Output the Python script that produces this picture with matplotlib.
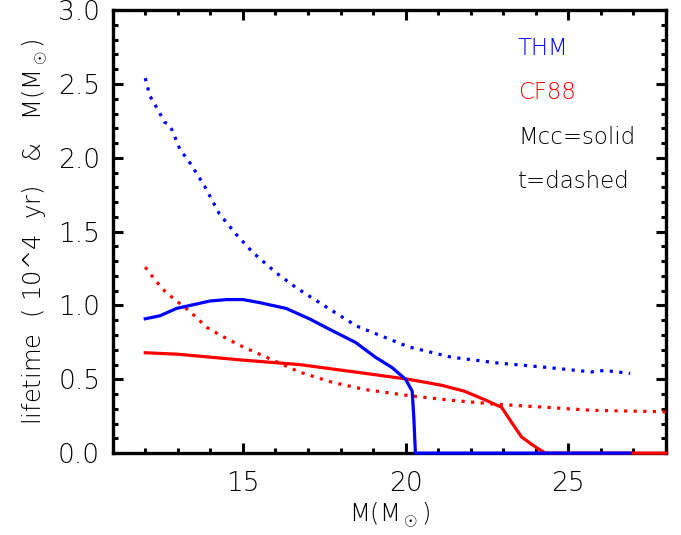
import numpy as np
import matplotlib
matplotlib.use("Agg")
import matplotlib.pyplot as plt
from matplotlib.ticker import MultipleLocator

plt.rcParams['font.family'] = ['DejaVu Sans']
plt.rcParams['font.weight'] = 'light'
plt.rcParams['axes.labelweight'] = 'light'
plt.rcParams['mathtext.fontset'] = 'custom'
plt.rcParams['mathtext.rm'] = 'DejaVu Sans:light'
plt.rcParams['mathtext.default'] = 'rm'

# THM tracks: core mass (solid) and lifetime (dotted)
thm_m_mcc = [12.0, 12.45, 12.96, 13.37, 13.98, 14.5, 15.0, 15.5, 16.33, 17.04, 17.74,
             18.46, 19.07, 19.58, 20.0, 20.2, 20.25, 20.3, 26.9]
thm_mcc = [0.91, 0.93, 0.98, 1.00, 1.03, 1.04, 1.04, 1.02, 0.98, 0.91, 0.83,
           0.75, 0.65, 0.58, 0.50, 0.42, 0.25, 0.0, 0.0]
thm_m_t = [12.0, 12.14, 12.35, 12.6, 12.7, 12.82, 13.06, 13.36, 13.82, 14.28, 14.8,
           15.3, 16.03, 16.64, 17.56, 18.5, 20.09, 21.4, 22.85, 24.37, 25.7, 26.1, 26.9]
thm_t = [2.54, 2.42, 2.34, 2.24, 2.23, 2.19, 2.06, 1.97, 1.81, 1.62, 1.48,
         1.36, 1.22, 1.12, 0.99, 0.86, 0.72, 0.65, 0.61, 0.58, 0.55, 0.56, 0.54]

# CF88 tracks
cf_m_mcc = [12.0, 12.5, 13.0, 14.0, 15.0, 16.73, 18.77, 20.09, 21.1, 21.8, 22.45,
            22.95, 23.25, 23.56, 23.87, 24.07, 24.3, 28.0]
cf_mcc = [0.68, 0.675, 0.67, 0.65, 0.63, 0.60, 0.54, 0.50, 0.46, 0.42, 0.36,
          0.31, 0.21, 0.11, 0.06, 0.03, 0.0, 0.0]
cf_m_t = [12.0, 12.24, 12.54, 12.85, 13.37, 13.9, 14.38, 15.0, 15.72, 16.73, 17.74,
          18.77, 20.09, 21.3, 22.85, 24.37, 25.7, 26.9, 28.0]
cf_t = [1.26, 1.19, 1.11, 1.05, 0.96, 0.85, 0.79, 0.72, 0.65, 0.55, 0.48,
        0.43, 0.39, 0.36, 0.33, 0.31, 0.29, 0.285, 0.28]

legend_text = ['THM', 'CF88', 'Mcc=solid', 't=dashed']
legend_color = ['blue', 'red', 'black', 'black']

fig = plt.figure(figsize=(6.81, 5.35), dpi=100)
ax = fig.add_axes([0.1655, 0.153, 0.8125, 0.828])

lw = 2.3
dots = (0, (1, 2))
ax.plot(cf_m_t, cf_t, color='red', lw=lw, linestyle=dots, dash_capstyle='butt', clip_on=False, zorder=3)
ax.plot(thm_m_t, thm_t, color='blue', lw=lw, linestyle=dots, dash_capstyle='butt', clip_on=False, zorder=3)
ax.plot(cf_m_mcc, cf_mcc, color='red', lw=lw, clip_on=False, zorder=4)
ax.plot(thm_m_mcc, thm_mcc, color='blue', lw=lw, clip_on=False, zorder=5)

for i, (s, c) in enumerate(zip(legend_text, legend_color)):
    ax.text(23.45, 2.74 - 0.3 * i, s, color=c, fontsize=16.5, va='center', ha='left')

ax.set_xlim(11, 28)
ax.set_ylim(0, 3.0)
ax.xaxis.set_major_locator(MultipleLocator(5))
ax.xaxis.set_minor_locator(MultipleLocator(1))
ax.yaxis.set_major_locator(MultipleLocator(0.5))
ax.yaxis.set_minor_locator(MultipleLocator(0.1))
ax.yaxis.set_major_formatter(matplotlib.ticker.FormatStrFormatter('%.1f'))

ax.tick_params(which='both', direction='in', top=True, right=True, width=2.2)
ax.tick_params(which='major', length=7.5, labelsize=19)
ax.tick_params(which='minor', length=3.5)
ax.tick_params(axis='x', which='major', pad=13)
ax.tick_params(axis='y', which='major', pad=9)
for sp in ax.spines.values():
    sp.set_linewidth(2.4)

ax.set_xlabel(r'M(M$_\odot$)', fontsize=17.5, labelpad=3)
ax.set_ylabel(r'lifetime  ( 10^4  yr)   &   M(M$_\odot$)', fontsize=17.5, labelpad=6)

fig.savefig('out.png', dpi=100)
